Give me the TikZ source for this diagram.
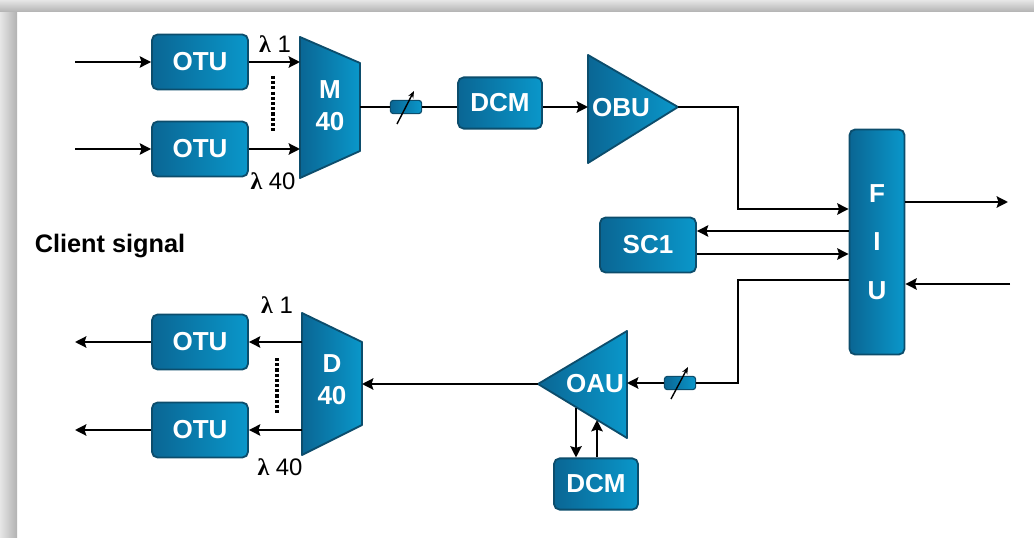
\documentclass[tikz,border=0pt]{standalone}
\usepackage{fontspec}
\setmainfont{Liberation Sans}
\newfontfamily\lambdafont{Liberation Serif}
\usetikzlibrary{arrows.meta,positioning}
\definecolor{unitdark}{HTML}{0A6694}
\definecolor{unitlight}{HTML}{0A97CA}
\definecolor{unitedge}{HTML}{0C4D6C}
\definecolor{framelight}{HTML}{E6E6E6}
\definecolor{framedark}{HTML}{B2B2B2}

\tikzset{
  unitbox/.style={draw=unitedge,line width=1.3pt,rounded corners=4pt,
    left color=unitdark,right color=unitlight,text=white,inner sep=0pt,
    font=\fontsize{18.5}{22}\selectfont\bfseries},
  otubox/.style={unitbox,minimum width=2.4cm,minimum height=1.375cm},
  dcmbox/.style={unitbox,minimum width=2.1cm,minimum height=1.28cm},
  fiubox/.style={unitbox,minimum width=1.375cm,minimum height=5.625cm,
    align=center,font=\fontsize{18.5}{34.5}\selectfont\bfseries},
  attbox/.style={unitbox,line width=.8pt,rounded corners=2pt,
    minimum width=.78cm,minimum height=.33cm},
  unitshape/.style={draw=unitedge,line width=1.3pt,line join=round,
    left color=unitdark,right color=unitlight},
  unitlabel/.style={text=white,inner sep=0pt,align=center,
    font=\fontsize{18.5}{23}\selectfont\bfseries},
  sig/.style={line width=2.1pt},
  tune/.style={line width=1pt,-{Stealth[length=5pt,width=4pt]}},
  chan/.style={font=\fontsize{17}{20}\selectfont,inner sep=0pt},
  dots/.style={line width=3pt,dash pattern=on 2.2pt off 1.5pt}
}

\begin{document}
\begin{tikzpicture}[x=0.025cm,y=-0.025cm,>={Stealth[length=8pt,width=8pt,inset=1.2pt]},line cap=butt]
  \useasboundingbox (0,0) rectangle (1034,538);
  \fill[white] (0,0) rectangle (1034,538);
  \fill[left color=framelight,right color=framedark] (0,0) rectangle (17,538);
  \fill[top color=framelight,bottom color=framedark] (0,0) rectangle (1034,12);

  % transmit side
  \node[otubox] (otuA) at (200,62) {OTU};
  \node[otubox] (otuB) at (200,149) {OTU};
  \filldraw[unitshape] (300,37) -- (360,63) -- (360,151) -- (300,178) -- cycle;
  \node[unitlabel] (m40) at (330,106) {M\\40};
  \coordinate (m40w) at (300,107);
  \coordinate (m40e) at (360,107);
  \node[attbox] (attA) at (406,107) {};
  \node[dcmbox] (dcmA) at (500,103) {DCM};
  \filldraw[unitshape] (588,55) -- (678,107) -- (588,163) -- cycle;
  \node[unitlabel] (obu) at (621,108) {OBU};
  \coordinate (obuw) at (588,107);
  \coordinate (obue) at (678,107);

  \coordinate (inA) at (75,62);
  \coordinate (inB) at (75,149);
  \draw[sig,->] (inA) -- (otuA.west);
  \draw[sig,->] (inB) -- (otuB.west);
  \draw[sig,->] (otuA.east) -- (otuA.east -| m40w);
  \draw[sig,->] (otuB.east) -- (otuB.east -| m40w);
  \draw[dots] (273,76) -- (273,133);
  \node[chan] (lamA) at (275,44) {{\lambdafont\bfseries λ} 1};
  \node[chan] (lamB) at (273,181) {{\lambdafont\bfseries λ} 40};

  \draw[sig] (m40e) -- (attA.west);
  \draw[sig] (attA.east) -- (attA.east -| dcmA.west);
  \draw[tune] (attA.center) ++(-9,17) -- ++(17,-33);
  \draw[sig,->] (dcmA.east |- obuw) -- (obuw);

  % FIU and SC1
  \node[fiubox] (fiu) at (877,242) {F\\I\\U};
  \node[otubox] (sc1) at (648,245) {SC1};
  \coordinate (lineOut) at (1008,202);
  \coordinate (lineIn) at (1010,284);
  \draw[sig,->] (obue) -| (738,209) -- (fiu.west |- 0,209);
  \draw[sig,->] (fiu.west |- 0,231) -- (sc1.east |- 0,231);
  \draw[sig,->] (sc1.east |- 0,254) -- (fiu.west |- 0,254);
  \draw[sig,->] (fiu.east |- lineOut) -- (lineOut);
  \draw[sig,->] (lineIn) -- (fiu.east |- lineIn);

  \node[font=\fontsize{18}{22}\selectfont\bfseries] (client) at (110,246) {Client signal};

  % receive side
  \node[attbox] (attB) at (680,383) {};
  \filldraw[unitshape] (538,384) -- (627,331) -- (627,438) -- cycle;
  \node[unitlabel] (oau) at (595,384) {OAU};
  \coordinate (oauw) at (538,384);
  \coordinate (oaue) at (627,383);
  \coordinate (oauDown) at (576,408);
  \coordinate (oauUp) at (597,420);
  \node[dcmbox] (dcmB) at (596,484) {DCM};
  \filldraw[unitshape] (302,313) -- (362,342) -- (362,425) -- (302,455) -- cycle;
  \node[unitlabel] (d40) at (332,380) {D\\40};
  \coordinate (d40w) at (302,384);
  \coordinate (d40e) at (362,384);
  \node[otubox] (otuC) at (200,342) {OTU};
  \node[otubox] (otuD) at (200,430) {OTU};

  \draw[sig] (fiu.west |- 0,280) -| (738,383) -- (attB.east);
  \draw[sig,->] (attB.west) -- (oaue);
  \draw[tune] (attB.center) ++(-9,16) -- ++(17,-32);
  \draw[sig,->] (oauDown) -- (oauDown |- dcmB.north);
  \draw[sig,->] (dcmB.north -| oauUp) -- (oauUp);
  \draw[sig,->] (oauw) -- (d40e);

  \coordinate (outC) at (75,342);
  \coordinate (outD) at (75,430);
  \draw[sig,->] (otuC.east -| d40w) -- (otuC.east);
  \draw[sig,->] (otuD.east -| d40w) -- (otuD.east);
  \draw[sig,->] (otuC.west) -- (outC);
  \draw[sig,->] (otuD.west) -- (outD);
  \draw[dots] (277,358) -- (277,413);
  \node[chan] (lamC) at (277,305) {{\lambdafont\bfseries λ} 1};
  \node[chan] (lamD) at (280,467) {{\lambdafont\bfseries λ} 40};
\end{tikzpicture}
\end{document}
